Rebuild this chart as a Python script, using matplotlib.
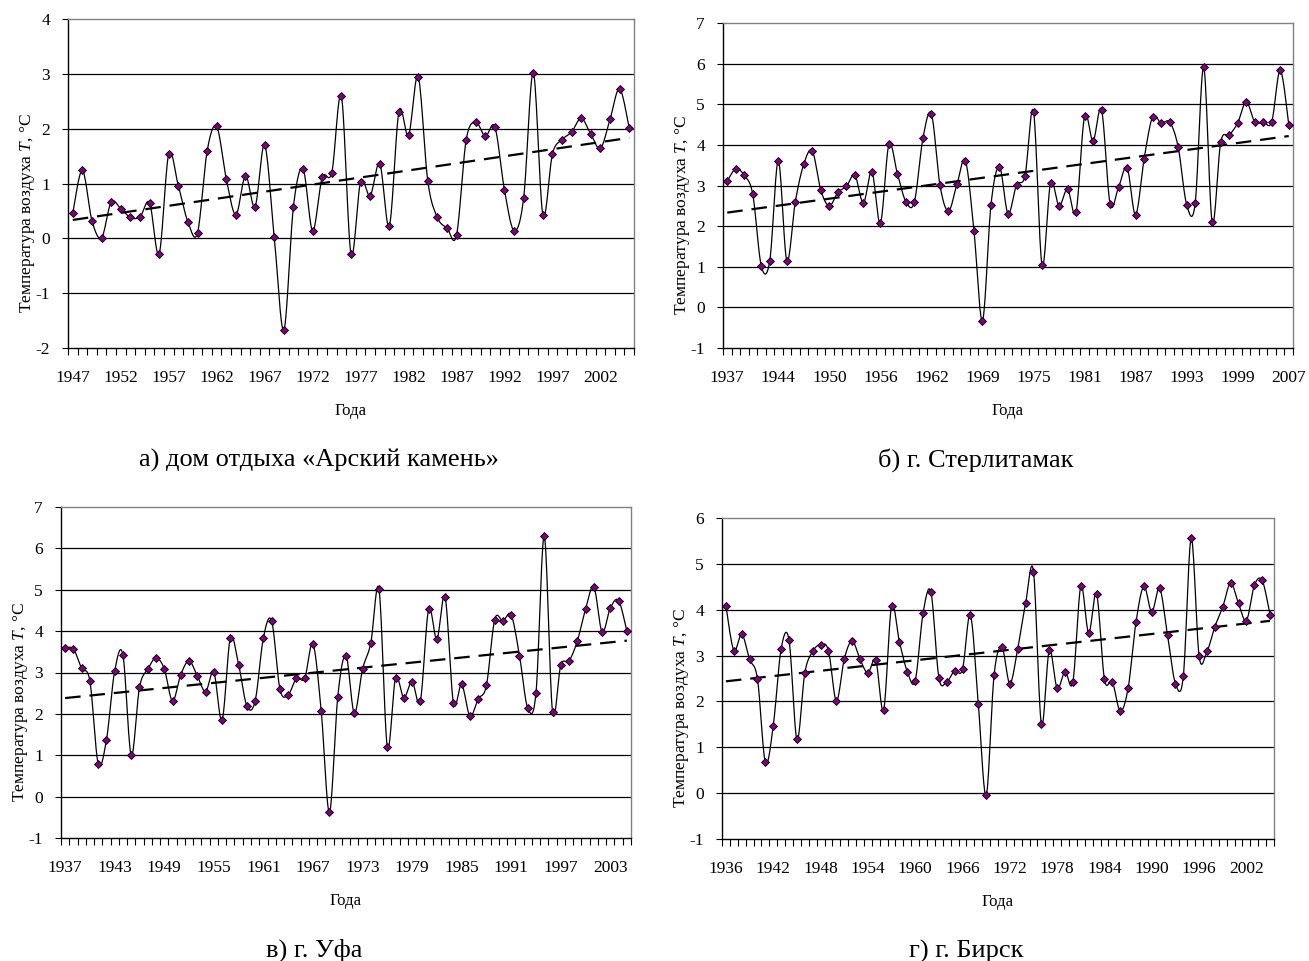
import numpy as np
import matplotlib
matplotlib.use("Agg")
import matplotlib.pyplot as plt

plt.rcParams["font.family"] = ["Liberation Serif", "DejaVu Serif"]
plt.rcParams["mathtext.fontset"] = "custom"
plt.rcParams["mathtext.rm"] = "Liberation Serif"
plt.rcParams["mathtext.it"] = "Liberation Serif:italic"
plt.rcParams["axes.unicode_minus"] = False

# а) дом отдыха «Арский камень», 1947-2005
labels_arsk = [str(y) for y in range(1947, 2003, 5)]
temp_arsk = [
	0.47, 1.24, 0.32, 0.01, 0.66, 0.54, 0.38, 0.39, 0.65, -0.28,
	1.54, 0.96, 0.30, 0.10, 1.59, 2.04, 1.08, 0.43, 1.14, 0.58,
	1.70, 0.02, -1.67, 0.58, 1.27, 0.14, 1.11, 1.20, 2.59, -0.28,
	1.03, 0.78, 1.36, 0.23, 2.31, 1.88, 2.95, 1.05, 0.38, 0.19,
	0.06, 1.79, 2.12, 1.86, 2.03, 0.88, 0.14, 0.74, 3.02, 0.43,
	1.54, 1.80, 1.94, 2.19, 1.90, 1.64, 2.17, 2.73, 2.01,
]

# б) г. Стерлитамак
labels_sterl = ["1937", "1944", "1950", "1956", "1962", "1969",
	"1975", "1981", "1987", "1993", "1999", "2007"]
temp_sterl = [
	3.11, 3.41, 3.25, 2.78, 1.02, 1.15, 3.61, 1.15, 2.60, 3.53,
	3.85, 2.88, 2.50, 2.83, 2.98, 3.25, 2.57, 3.34, 2.07, 4.01,
	3.29, 2.60, 2.60, 4.16, 4.76, 3.01, 2.37, 3.03, 3.61, 1.88,
	-0.33, 2.53, 3.46, 2.31, 3.01, 3.24, 4.82, 1.04, 3.06, 2.50,
	2.91, 2.35, 4.71, 4.10, 4.86, 2.55, 2.96, 3.44, 2.28, 3.66,
	4.69, 4.53, 4.56, 3.95, 2.53, 2.56, 5.91, 2.10, 4.06, 4.24,
	4.54, 5.06, 4.57, 4.56, 4.57, 5.84, 4.50,
]

# в) г. Уфа
labels_ufa = [str(y) for y in range(1937, 2004, 6)]
temp_ufa = [
	3.59, 3.57, 3.10, 2.79, 0.80, 1.37, 3.04, 3.42, 1.00, 2.64,
	3.08, 3.35, 3.09, 2.31, 2.95, 3.28, 2.92, 2.54, 3.01, 1.85,
	3.84, 3.19, 2.19, 2.31, 3.84, 4.25, 2.60, 2.46, 2.86, 2.86,
	3.69, 2.07, -0.38, 2.41, 3.41, 2.02, 3.08, 3.71, 5.01, 1.21,
	2.87, 2.39, 2.78, 2.31, 4.53, 3.81, 4.82, 2.27, 2.71, 1.95,
	2.36, 2.69, 4.28, 4.25, 4.39, 3.41, 2.14, 2.51, 6.29, 2.05,
	3.18, 3.28, 3.76, 4.53, 5.07, 3.98, 4.56, 4.74, 4.00,
]

# г) г. Бирск
labels_birsk = [str(y) for y in range(1936, 2003, 6)]
temp_birsk = [
	4.08, 3.11, 3.47, 2.92, 2.49, 0.67, 1.47, 3.15, 3.34, 1.17,
	2.62, 3.09, 3.24, 3.11, 2.01, 2.92, 3.32, 2.92, 2.62, 2.90,
	1.82, 4.08, 3.30, 2.65, 2.45, 3.93, 4.38, 2.52, 2.43, 2.67,
	2.70, 3.89, 1.95, -0.05, 2.57, 3.18, 2.39, 3.15, 4.14, 4.83,
	1.51, 3.12, 2.29, 2.65, 2.43, 4.51, 3.49, 4.35, 2.48, 2.43,
	1.79, 2.29, 3.73, 4.51, 3.95, 4.47, 3.44, 2.39, 2.55, 5.56,
	2.99, 3.09, 3.63, 4.06, 4.58, 4.14, 3.76, 4.53, 4.64, 3.89,
]

panels = [
	(temp_arsk, labels_arsk, 5, (-2, 4), (68, 19, 634, 348), "а) дом отдыха «Арский камень»"),
	(temp_sterl, labels_sterl, 6, (-1, 7), (723, 23, 1293, 348), "б) г. Стерлитамак"),
	(temp_ufa, labels_ufa, 6, (-1, 7), (61, 507, 631, 838), "в) г. Уфа"),
	(temp_birsk, labels_birsk, 6, (-1, 6), (722, 518, 1274, 839), "г) г. Бирск"),
]

W, H = 1309, 961


def smooth(y, steps=16):
	# excel-like smoothed line (catmull-rom bezier)
	y = np.asarray(y, dtype=float)
	n = len(y)
	xs, ys = [], []
	t = np.linspace(0, 1, steps, endpoint=False)
	for i in range(n - 1):
		p0 = np.array([i - 1, y[i - 1]]) if i > 0 else np.array([i, y[i]])
		p1 = np.array([i, y[i]])
		p2 = np.array([i + 1, y[i + 1]])
		p3 = np.array([i + 2, y[i + 2]]) if i + 2 < n else p2
		c1 = p1 + (p2 - p0) / 6
		c2 = p2 - (p3 - p1) / 6
		b = ((1 - t) ** 3)[:, None] * p1 + (3 * (1 - t) ** 2 * t)[:, None] * c1 \
			+ (3 * (1 - t) * t ** 2)[:, None] * c2 + (t ** 3)[:, None] * p2
		xs.extend(b[:, 0])
		ys.extend(b[:, 1])
	xs.append(n - 1)
	ys.append(y[-1])
	return np.array(xs), np.array(ys)


fig = plt.figure(figsize=(W / 100, H / 100), dpi=100)

for temps, labels, step, ylim, (x0, y0, x1, y1), caption in panels:
	w, h = x1 - x0, y1 - y0
	ax = fig.add_axes([x0 / W, 1 - y1 / H, w / W, h / H])
	n = len(temps)
	idx = np.arange(n)

	for v in range(ylim[0] + 1, ylim[1]):
		ax.axhline(v, color="black", lw=0.9, zorder=1)

	sx, sy = smooth(temps)
	ax.plot(sx, sy, color="black", lw=0.9, zorder=2)
	ax.plot(idx, temps, ls="none", marker="D", ms=4.2, mfc="#800080",
		mec="black", mew=0.6, zorder=3)

	k, b = np.polyfit(idx, temps, 1)
	ax.plot([0, n - 1], [b, b + k * (n - 1)], color="black", lw=1.6,
		dashes=(7, 4), zorder=2)

	ax.set_xlim(-0.5, n - 0.5)
	ax.set_ylim(*ylim)
	ax.set_yticks(range(ylim[0], ylim[1] + 1))
	ax.tick_params(axis="y", direction="out", length=4, width=0.8,
		labelsize=12.5, pad=9)

	ax.set_xticks(idx[::step][:len(labels)])
	ax.set_xticklabels(labels)
	ax.set_xticks(np.arange(-0.5, n, 1), minor=True)
	ax.tick_params(axis="x", which="major", length=0, labelsize=12.5, pad=16)
	ax.tick_params(axis="x", which="minor", direction="out", length=5, width=0.8)

	for side in ("left", "bottom"):
		ax.spines[side].set_color("black")
		ax.spines[side].set_linewidth(1.0)
	for side in ("top", "right"):
		ax.spines[side].set_color("#808080")
		ax.spines[side].set_linewidth(1.0)

	ax.set_ylabel("Температура воздуха $T$, °C", fontsize=12.5)
	ax.yaxis.set_label_coords(-31 / w, 0.5 - 30 / h)
	ax.set_xlabel("Года", fontsize=12, labelpad=12)

	fig.text(((x0 + x1) / 2 - 32) / W, 1 - (y1 + 112) / H, caption,
		ha="center", va="center", fontsize=19)

fig.savefig("out.png", dpi=100, facecolor="white")
